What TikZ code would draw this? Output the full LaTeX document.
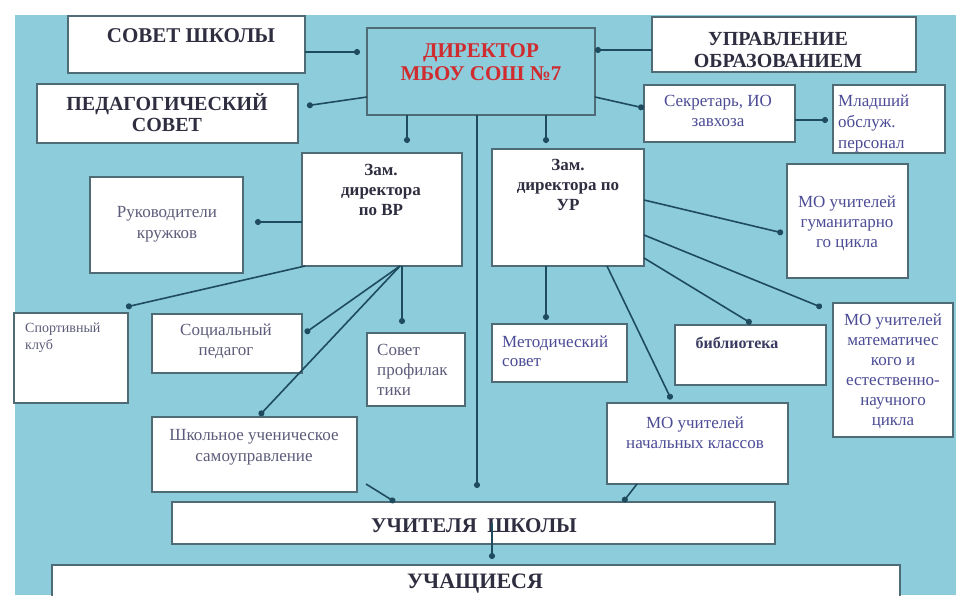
\documentclass[tikz,border=0pt]{standalone}
\usepackage{fontspec}
\setmainfont{Liberation Serif}
\usetikzlibrary{arrows.meta,calc}
\definecolor{bgblue}{HTML}{8DCCDA}
\definecolor{boxline}{HTML}{4F6B75}
\definecolor{lncol}{HTML}{1F4B5E}
\definecolor{headcol}{HTML}{2E2E40}
\definecolor{dircol}{HTML}{D02C30}
\definecolor{regcol}{HTML}{4B4B96}
\definecolor{graycol}{HTML}{5C5C7A}
\begin{document}
\begin{tikzpicture}[x=1pt,y=-1pt,
  wbox/.style={draw=boxline, line width=1.8pt, fill=white, anchor=north west, inner sep=0pt, outer sep=0pt},
  bbox/.style={draw=boxline, line width=1.8pt, fill=bgblue, anchor=north west, inner sep=0pt, outer sep=0pt},
  conn/.style={draw=lncol, line width=1.6pt, -{Circle[length=6pt, width=6pt]}},
  head/.style={font=\bfseries\fontsize{21}{22}\selectfont, text=headcol, align=center, inner sep=0pt, anchor=base},
  dirtext/.style={font=\bfseries\fontsize{21}{23}\selectfont, text=dircol, align=center, inner sep=0pt, anchor=base},
  zam/.style={font=\bfseries\fontsize{17}{20}\selectfont, text=headcol, align=center, inner sep=0pt, anchor=base},
  reg/.style={font=\fontsize{17}{20}\selectfont, text=regcol, align=center, inner sep=0pt, anchor=base},
  regl/.style={font=\fontsize{17}{20}\selectfont, text=regcol, align=left, inner sep=0pt, anchor=base west},
]
\useasboundingbox (0,0) rectangle (956,595);
\clip (0,0) rectangle (956,595);
\fill[bgblue] (15,15) rectangle (956,595);

% boxes
\node[wbox, minimum width=237pt, minimum height=57pt] (sovet) at (68,16) {};
\node[wbox, minimum width=261pt, minimum height=59pt] (ped) at (37,84) {};
\node[bbox, minimum width=228pt, minimum height=87pt] (dir) at (367,28) {};
\node[wbox, minimum width=264pt, minimum height=55pt] (upr) at (652,17) {};
\node[wbox, minimum width=151pt, minimum height=57pt] (sec) at (644,85) {};
\node[wbox, minimum width=112pt, minimum height=68pt] (ml) at (833,85) {};
\node[wbox, minimum width=160pt, minimum height=113pt] (zamvr) at (302,153) {};
\node[wbox, minimum width=153pt, minimum height=96pt] (ruk) at (90,177) {};
\node[wbox, minimum width=152pt, minimum height=117pt] (zamur) at (492,149) {};
\node[wbox, minimum width=121pt, minimum height=114pt] (mogum) at (787,164) {};
\node[wbox, minimum width=114pt, minimum height=90pt] (sport) at (14,313) {};
\node[wbox, minimum width=150pt, minimum height=59pt] (soc) at (152,314) {};
\node[wbox, minimum width=98pt, minimum height=73pt] (sovprof) at (367,333) {};
\node[wbox, minimum width=205pt, minimum height=75pt] (shkol) at (152,417) {};
\node[wbox, minimum width=135pt, minimum height=58pt] (metod) at (492,324) {};
\node[wbox, minimum width=151pt, minimum height=60pt] (bibl) at (675,325) {};
\node[wbox, minimum width=120pt, minimum height=134pt] (momat) at (833,303) {};
\node[wbox, minimum width=181pt, minimum height=81pt] (monach) at (607,403) {};
\node[wbox, minimum width=603pt, minimum height=42pt] (uchit) at (172,502) {};
\node[wbox, minimum width=848pt, minimum height=45pt] (uchash) at (52,565) {};

% texts (anchor base = baseline of the last line)
\node[head] (sovet-t) at (191,42) {СОВЕТ ШКОЛЫ};
\node[head, font=\bfseries\fontsize{20}{21}\selectfont] (ped-t) at (167,131) {ПЕДАГОГИЧЕСКИЙ\\СОВЕТ};
\node[dirtext] (dir-t) at (481,80) {ДИРЕКТОР\\МБОУ СОШ №7};
\node[head, font=\bfseries\fontsize{20}{22}\selectfont] (upr-t) at (778,67) {УПРАВЛЕНИЕ\\ОБРАЗОВАНИЕМ};
\node[reg] (sec-t) at (718,126) {Секретарь, ИО\\завхоза};
\node[regl, font=\fontsize{17}{21}\selectfont] (ml-t) at (838,148) {Младший\\обслуж.\\персонал};
\node[zam] (zamvr-t) at (381,215) {Зам.\\директора\\по ВР};
\node[zam] (zamur-t) at (568,210) {Зам.\\директора по\\УР};
\node[reg, text=graycol, font=\fontsize{17}{21}\selectfont] (ruk-t) at (167,238) {Руководители\\кружков};
\node[reg] (mogum-t) at (847,247) {МО учителей\\гуманитарно\\го цикла};
\node[regl, text=graycol, font=\fontsize{14}{17}\selectfont] (sport-t) at (25,349) {Спортивный\\клуб};
\node[reg, text=graycol] (soc-t) at (226,355) {Социальный\\педагог};
\node[regl, text=graycol] (sovprof-t) at (377,395) {Совет\\профилак\\тики};
\node[reg, text=graycol, font=\fontsize{17}{21}\selectfont] (shkol-t) at (254,461) {Школьное ученическое\\самоуправление};
\node[regl, font=\fontsize{17}{19}\selectfont] (metod-t) at (502,366) {Методический\\совет};
\node[reg, font=\bfseries\fontsize{16}{19}\selectfont, text=headcol!60!regcol] (bibl-t) at (737,348) {библиотека};
\node[reg] (momat-t) at (893,425) {МО учителей\\математичес\\кого и\\естественно-\\научного\\цикла};
\node[reg] (monach-t) at (695,448) {МО учителей\\начальных классов};
\node[head] (uchit-t) at (474,532) {УЧИТЕЛЯ\ \ ШКОЛЫ};
\node[head, font=\bfseries\fontsize{22}{23}\selectfont] (uchash-t) at (475,588) {УЧАЩИЕСЯ};

% connectors
\draw[conn, shorten >=7pt] (sovet.east |- 0,52) -- (dir.west |- 0,52);
\draw[conn] (upr.west |- 0,50) -- (dir.east |- 0,50);
\draw[conn, shorten >=9pt] (dir.west |- 0,97) -- (ped.east |- 0,107);
\draw[conn] (dir.east |- 0,97) -- (sec.west |- 0,108);
\draw[conn, shorten >=5pt] (sec.east |- 0,120) -- (ml.west |- 0,120);
\draw[conn, shorten >=10pt] (dir.south -| 407,0) -- (zamvr.north -| 407,0);
\draw[conn, shorten >=6pt] (dir.south -| 546,0) -- (zamur.north -| 546,0);
\draw[conn, shorten >=14pt] (dir.south -| 477,0) -- (uchit.north -| 477,0);
\draw[conn, shorten >=12pt] (zamvr.west |- 0,222) -- (ruk.east |- 0,222);
\draw[conn] ($(zamvr.south west)+(3,0)$) -- ($(sport.north east)+(-2,-6)$);
\coordinate (fan) at ($(zamvr.south)+(18,0)$);
\draw[conn] (fan) -- ($(soc.east |- 0,333)+(3,0)$);
\draw[conn, shorten >=2pt] (fan) -- (shkol.north -| 258,0);
\draw[conn, shorten >=9pt] (zamvr.south -| 402,0) -- (sovprof.north -| 402,0);
\draw[conn, shorten >=4pt] (zamur.south -| 546,0) -- (metod.north -| 546,0);
\draw[conn, shorten >=4pt] (zamur.south -| 607,0) -- (monach.north -| 673,0);
\draw[conn, shorten >=3pt] (zamur.east |- 0,258) -- (bibl.north -| 754,0);
\draw[conn, shorten >=12pt] (zamur.east |- 0,235) -- (momat.west |- 0,312);
\draw[conn, shorten >=4pt] (zamur.east |- 0,200) -- (mogum.west |- 0,234);
\draw[conn] ($(shkol.south east)+(9,-8)$) -- (uchit.north -| 395,0);
\draw[conn] (monach.south -| 637,0) -- (uchit.north -| 623,0);
\draw[conn, shorten >=6pt] (uchit.center -| 492,0) -- (uchash.north -| 492,0);
\end{tikzpicture}
\end{document}
